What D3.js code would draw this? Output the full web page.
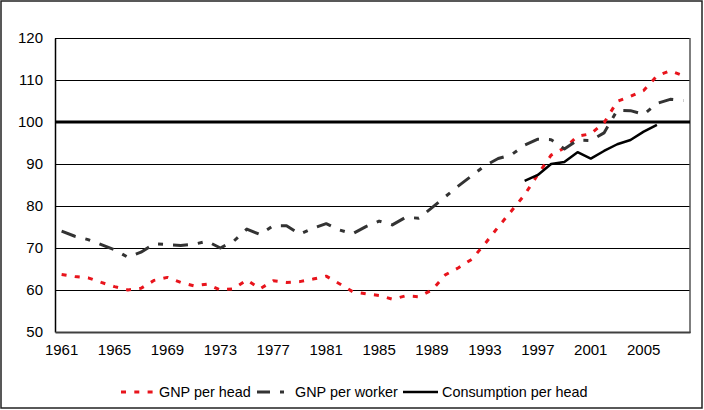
<!DOCTYPE html>
<html><head><meta charset="utf-8">
<script src="https://cdn.jsdelivr.net/npm/d3@7"></script>
<style>
html,body{margin:0;padding:0;background:#fff;}
svg{display:block;font-family:"Liberation Sans",Arial,sans-serif;}
</style></head>
<body><svg id="c" width="704" height="410"></svg>
<script>
const years = d3.range(1961, 2009);
const tickYears = [1961,1965,1969,1973,1977,1981,1985,1989,1993,1997,2001,2005];
const yTicks = [50,60,70,80,90,100,110,120];
const gnpPerHead = [63.7,63.2,62.9,61.8,60.8,60.0,60.4,62.3,63.0,61.8,61.0,61.4,60.0,60.3,62.4,60.3,62.2,61.8,62.0,62.6,63.3,61.5,59.6,59.1,58.7,57.8,58.6,58.4,60.0,63.6,65.3,67.3,71.0,75.0,78.8,82.7,87.5,92.1,93.8,96.6,97.2,99.8,104.9,106.1,107.5,111.0,112.2,111.0];
const gnpPerWorker = [74.0,72.8,72.0,70.8,69.6,67.8,69.0,71.0,70.8,70.6,70.9,71.6,70.0,71.6,74.5,73.2,75.3,75.3,73.3,74.7,75.8,74.3,73.4,75.1,76.4,75.5,77.3,77.1,79.6,82.2,84.8,87.2,89.6,91.3,92.2,94.5,95.9,95.8,93.6,95.7,95.6,97.4,102.8,102.7,101.8,104.4,105.4,105.1];
const consYears = d3.range(1996, 2007);
const consPerHead = [86.0,87.4,90.0,90.5,92.8,91.3,93.1,94.7,95.7,97.7,99.3];
const seriesNames = ["GNP per head","GNP per worker","Consumption per head"];

const svg = d3.select("#c");
const L=55, R=690, T=38, B=332;
const x = d3.scaleBand().domain(years).range([L,R]).padding(0);
const cx = d => x(d) + x.bandwidth()/2;
const y = d3.scaleLinear().domain([50,120]).range([B,T]);

// outer border
svg.append("rect").attr("x",1).attr("y",1).attr("width",701).attr("height",407)
  .attr("fill","none").attr("stroke","#222").attr("stroke-width",1.5);

// gridlines
svg.append("g").selectAll("line").data(yTicks.filter(v=>v>50 && v!==100)).join("line")
  .attr("x1",L).attr("x2",R).attr("y1",d=>Math.round(y(d))+0.5).attr("y2",d=>Math.round(y(d))+0.5)
  .attr("stroke","#000").attr("stroke-width",1.2);
// right border
svg.append("line").attr("x1",R).attr("x2",R).attr("y1",T).attr("y2",B+1)
  .attr("stroke","#555").attr("stroke-width",1.5);

// y axis
const ya = svg.append("g").attr("transform",`translate(${L},0)`)
  .call(d3.axisLeft(y).tickValues(yTicks).tickSize(0).tickPadding(12));
ya.select(".domain").attr("stroke","#000").attr("stroke-width",1.5);
ya.selectAll("text").attr("font-size",15).attr("fill","#000")
  .attr("font-family","Liberation Sans, Arial, sans-serif");

// x axis
const xa = svg.append("g").attr("transform",`translate(0,${B})`)
  .call(d3.axisBottom(x).tickValues(tickYears).tickSize(0).tickPadding(12));
xa.select(".domain").attr("stroke","#404040").attr("stroke-width",2);
xa.selectAll("text").attr("font-size",15).attr("fill","#000")
  .attr("font-family","Liberation Sans, Arial, sans-serif");

// 100 reference line
svg.append("line").attr("x1",L).attr("x2",R).attr("y1",y(100)).attr("y2",y(100))
  .attr("stroke","#000").attr("stroke-width",3.2);

const line = d3.line().x(d=>cx(d[0])).y(d=>y(d[1]));
const styles = [
  {color:"#e8141c", w:3, dash:"5,8.3"},
  {color:"#333333", w:3, dash:"15,10,5,10"},
  {color:"#000000", w:2.5, dash:null}
];
const data = [
  years.map((yr,i)=>[yr,gnpPerHead[i]]),
  years.map((yr,i)=>[yr,gnpPerWorker[i]]),
  consYears.map((yr,i)=>[yr,consPerHead[i]])
];
data.forEach((d,i)=>{
  svg.append("path").datum(d).attr("d",line).attr("fill","none")
    .attr("stroke",styles[i].color).attr("stroke-width",styles[i].w)
    .attr("stroke-dasharray",styles[i].dash).attr("stroke-linejoin","round");
});

// legend
const legX = [121,257,403];
const legY = 392;
const lg = svg.append("g");
seriesNames.forEach((n,i)=>{
  lg.append("line").attr("x1",legX[i]).attr("x2",legX[i]+(i===2?35:32)).attr("y1",legY).attr("y2",legY)
    .attr("stroke",styles[i].color).attr("stroke-width",styles[i].w)
    .attr("stroke-dasharray",i===1?"13,10,4,10":styles[i].dash);
  lg.append("text").attr("x",legX[i]+(i===2?39:38)).attr("y",legY).attr("dy","0.35em")
    .attr("font-size",14.4).attr("fill","#000").text(n);
});
</script></body></html>
